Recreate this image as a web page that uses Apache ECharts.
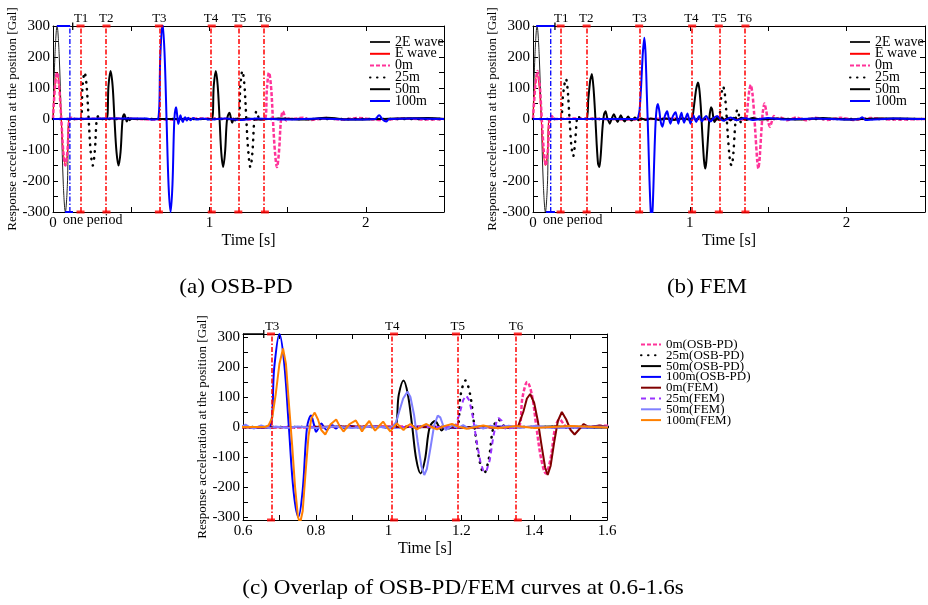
<!DOCTYPE html>
<html><head><meta charset="utf-8">
<script src="https://cdn.jsdelivr.net/npm/echarts@6/dist/echarts.min.js"></script>
<style>html,body{margin:0;padding:0;background:#fff}#c{width:928px;height:605px}</style>
</head><body><div id="c"></div>
<script>
// ---------- data ----------
const tTimes = [0.176, 0.342, 0.677, 1.015, 1.185, 1.355];
const tLabels = ['T1', 'T2', 'T3', 'T4', 'T5', 'T6'];
const legendAB = ['2E wave', 'E wave', '0m', '25m', '50m', '100m'];
const legendC = ['0m(OSB-PD)', '25m(OSB-PD)', '50m(OSB-PD)', '100m(OSB-PD)', '0m(FEM)', '25m(FEM)', '50m(FEM)', '100m(FEM)'];

const wave2E = [[0,0],[0.013,212],[0.026,300],[0.039,212],[0.053,0],[0.066,-212],[0.079,-300],[0.092,-212],[0.105,0],[2.5,0]];
const waveE = [[0,0],[0.013,106],[0.026,150],[0.039,106],[0.053,0],[0.066,-106],[0.079,-150],[0.092,-106],[0.105,0],[2.5,0]];

const osb0m = [[0,0],[0.013,106],[0.026,150],[0.039,106],[0.053,0],[0.066,-106],[0.079,-150],[0.092,-106],[0.105,0],[0.118,4],[0.13,0],[0.4,2],[0.7,-2],[1.0,2],[1.3,-2],[1.355,0],[1.368,100],[1.381,150],[1.394,105],[1.406,0],[1.419,-105],[1.432,-155],[1.445,-105],[1.458,0],[1.47,25],[1.482,8],[1.492,-5],[1.505,2],[1.52,0],[1.6,4],[1.65,-3],[1.75,3],[1.85,-2],[1.95,3],[2.1,-3],[2.25,2],[2.4,-2],[2.5,0]];
const osb25m = [[0,0],[0.176,0],[0.189,106],[0.202,150],[0.215,106],[0.228,0],[0.241,-106],[0.254,-150],[0.267,-106],[0.28,0],[0.292,10],[0.305,0],[1.185,0],[1.198,108],[1.211,155],[1.224,108],[1.236,0],[1.249,-108],[1.262,-155],[1.275,-108],[1.288,0],[1.302,25],[1.315,5],[1.33,0],[2.5,0]];
const osb50m = [[0,0],[0.342,0],[0.355,108],[0.368,155],[0.381,108],[0.393,0],[0.406,-106],[0.419,-150],[0.432,-106],[0.445,0],[0.456,15],[0.465,2],[0.472,-8],[0.48,4],[0.49,-4],[0.5,1],[0.52,0],[1.015,0],[1.028,108],[1.041,155],[1.053,108],[1.065,0],[1.076,-108],[1.088,-155],[1.1,-108],[1.113,0],[1.128,20],[1.138,2],[1.146,-12],[1.156,2],[1.165,-5],[1.178,2],[1.2,-2],[1.25,2],[1.3,-2],[1.45,2],[1.6,-2],[1.75,4],[1.9,-2],[2.2,2],[2.4,3],[2.5,0]];
const osb100m = [[0,0],[0.6,2],[0.63,-2],[0.672,0],[0.686,200],[0.700,310],[0.713,215],[0.726,0],[0.739,-215],[0.752,-300],[0.764,-210],[0.776,0],[0.787,38],[0.795,8],[0.801,-16],[0.808,-2],[0.815,12],[0.822,0],[0.83,-10],[0.838,2],[0.846,6],[0.855,-5],[0.865,4],[0.88,-4],[0.895,3],[0.92,-2],[0.96,2],[1.0,-2],[1.1,2],[1.2,-3],[1.3,2],[1.5,-2],[1.7,2],[1.9,-2],[2.06,0],[2.085,12],[2.105,0],[2.13,-8],[2.15,0],[2.3,2],[2.5,0]];

const fem0m = [[0,0],[0.015,110],[0.029,155],[0.043,110],[0.056,0],[0.069,-105],[0.082,-150],[0.095,-100],[0.107,0],[0.12,10],[0.133,0],[0.3,2],[0.6,-2],[0.9,2],[1.2,-2],[1.355,0],[1.37,50],[1.38,95],[1.389,110],[1.40,80],[1.41,20],[1.42,-60],[1.43,-135],[1.437,-160],[1.445,-130],[1.455,-50],[1.465,20],[1.476,50],[1.488,25],[1.50,-10],[1.511,-25],[1.522,-10],[1.536,10],[1.55,0],[1.58,5],[1.62,-4],[1.68,5],[1.74,-4],[1.8,4],[1.88,-3],[1.96,4],[2.05,-3],[2.15,3],[2.3,-2],[2.5,0]];
const fem25m = [[0,0],[0.176,0],[0.188,60],[0.2,110],[0.211,130],[0.222,90],[0.233,0],[0.245,-90],[0.257,-120],[0.268,-80],[0.28,0],[0.29,10],[0.302,0],[1.183,0],[1.195,45],[1.205,90],[1.213,105],[1.222,88],[1.232,30],[1.242,-50],[1.252,-115],[1.26,-145],[1.268,-150],[1.278,-110],[1.288,-30],[1.296,15],[1.302,30],[1.31,22],[1.318,-2],[1.325,-10],[1.335,-3],[1.35,0],[2.5,0]];
const fem50m = [[0,0],[0.342,0],[0.352,60],[0.365,125],[0.376,145],[0.386,100],[0.396,20],[0.406,-80],[0.415,-145],[0.424,-155],[0.433,-110],[0.443,-30],[0.453,15],[0.463,25],[0.473,5],[0.49,-15],[0.503,3],[0.516,15],[0.528,2],[0.54,-10],[0.55,2],[0.56,12],[0.572,0],[0.585,-8],[0.595,0],[0.607,8],[0.618,0],[0.63,-5],[0.64,0],[0.65,5],[0.662,0],[0.675,-4],[0.69,2],[0.72,-3],[0.75,2],[0.8,-3],[0.85,2],[0.9,-3],[0.95,2],[1.0,-2],[1.01,0],[1.02,15],[1.03,55],[1.04,95],[1.052,118],[1.06,100],[1.07,40],[1.08,-50],[1.09,-130],[1.098,-160],[1.105,-140],[1.115,-70],[1.125,5],[1.135,38],[1.142,32],[1.15,5],[1.157,-10],[1.166,-3],[1.176,6],[1.19,-4],[1.205,6],[1.22,-5],[1.24,5],[1.26,-5],[1.28,4],[1.30,-4],[1.33,4],[1.36,-3],[1.4,3],[1.45,-2],[1.55,2],[1.7,-2],[1.85,3],[2.0,-2],[2.2,2],[2.5,0]];
const fem100m = [[0,0],[0.66,0],[0.67,5],[0.68,30],[0.69,110],[0.70,210],[0.71,262],[0.718,210],[0.726,80],[0.735,-60],[0.743,-200],[0.751,-300],[0.757,-320],[0.764,-280],[0.772,-150],[0.78,-30],[0.788,30],[0.797,48],[0.806,25],[0.815,-10],[0.826,-25],[0.84,8],[0.856,25],[0.866,2],[0.876,-15],[0.893,10],[0.91,22],[0.918,5],[0.927,-15],[0.937,5],[0.947,20],[0.955,2],[0.963,-12],[0.975,5],[0.985,18],[0.995,0],[1.005,-15],[1.014,0],[1.023,12],[1.032,0],[1.041,-10],[1.05,2],[1.06,10],[1.069,0],[1.078,-8],[1.09,2],[1.104,10],[1.118,0],[1.133,-8],[1.15,2],[1.174,10],[1.195,0],[1.215,-6],[1.24,0],[1.26,5],[1.28,0],[1.3,-4],[1.35,3],[1.4,-3],[1.5,3],[1.6,-2],[1.8,2],[2.0,-2],[2.08,0],[2.1,6],[2.12,-3],[2.3,2],[2.5,0]];

// "one period" markers
const periodA = {top:[[0.024,300],[0.11,300]], bottom:[[0.077,-300],[0.128,-300]], vline:[[0.108,-300],[0.108,300]], tick:[[0.126,287],[0.126,311]]};
const periodB = {top:[[0.02,300],[0.14,300]], bottom:[[0.083,-300],[0.14,-300]], vline:[[0.113,-300],[0.113,300]], tick:[[0.14,287],[0.14,311]]};
const periodC = {top:[[0.6,310],[0.657,310]], tick:[[0.657,297],[0.657,323]]};

// ---------- styling ----------
const SERIF = "'Liberation Serif','Times New Roman',serif";
const C = {pink:'#ff3399', blue:'#0000ff', black:'#000000', red:'#ff0000', dred:'#800000', purple:'#9933ff', lblue:'#8080ff', orange:'#ff8000'};
const DOT = [0.5, 6.5], DASH = [4, 2], DASHDOT = [5, 2, 1.5, 2];

function axesX(g, min, max, interval, fmt) {
  const base = {gridIndex:g, type:'value', min, max, interval, splitLine:{show:false},
    axisLine:{onZero:false, lineStyle:{color:'#000', width:1}},
    axisTick:{inside:true, length:5, lineStyle:{color:'#000'}}};
  return [
    Object.assign({}, base, {position:'bottom', name:'Time [s]', nameLocation:'middle', nameGap:21,
      nameTextStyle:{fontFamily:SERIF, fontSize:16, color:'#000'},
      axisLabel:{formatter:fmt, fontFamily:SERIF, fontSize:15, color:'#000', margin:4}}),
    Object.assign({}, base, {position:'top', axisLabel:{show:false}})
  ];
}
function axesY(g, min, max, interval, splitNumber) {
  const base = {gridIndex:g, type:'value', min, max, splitLine:{show:false},
    axisLine:{onZero:false, lineStyle:{color:'#000', width:1}},
    axisTick:{inside:true, length:5, lineStyle:{color:'#000'}}};
  if (interval) base.interval = interval; else base.splitNumber = splitNumber;
  return [
    Object.assign({}, base, {position:'left', name:'Response acceleration at the position [Gal]', nameLocation:'middle', nameGap:34,
      nameTextStyle:{fontFamily:SERIF, fontSize:13, color:'#000'},
      axisLabel:{formatter:v => (v % 100 === 0 ? String(v) : ''), fontFamily:SERIF, fontSize:15, color:'#000', margin:3}}),
    Object.assign({}, base, {position:'right', axisLabel:{show:false}})
  ];
}
function ln(name, data, g, color, width, type, smooth) {
  const cap = (type === DOT) ? 'round' : 'butt';
  return {type:'line', name, data, xAxisIndex:g*2, yAxisIndex:g*2, symbol:'none', showSymbol:false, smooth,
    lineStyle:{color, width, type, cap}, itemStyle:{color}, animation:false};
}
function deco(data, g, color, width, type) {
  return {type:'line', data, xAxisIndex:g*2, yAxisIndex:g*2, symbol:'none', clip:false, silent:true,
    lineStyle:{color, width, type}, animation:false, z:5};
}
function tMarks(g, lim, lo, hi) {
  const idx = tTimes.map((t, i) => i).filter(i => tTimes[i] >= lo && tTimes[i] <= hi);
  const pts = [];
  idx.forEach(i => { pts.push([tTimes[i], lim]); pts.push([tTimes[i], -lim]); });
  return {type:'scatter', data:pts, xAxisIndex:g*2, yAxisIndex:g*2, symbol:'rect', symbolSize:[8,3], clip:false, silent:true,
    itemStyle:{color:C.red}, animation:false, z:6,
    markLine:{silent:true, symbol:['none','none'], animation:false,
      lineStyle:{color:C.red, width:1.5, type:DASHDOT},
      label:{show:true, position:'end', formatter:'{b}', fontFamily:SERIF, fontSize:13, color:'#000', distance:1},
      data: idx.map(i => ({xAxis:tTimes[i], name:tLabels[i]}))}};
}
const fmtAB = v => (Number.isInteger(v) ? String(v) : '');
const fmtC = v => { const k = Math.round(v * 10); return k % 2 === 0 ? String(k / 10) : ''; };

const series = [
  // (a) OSB-PD
  ln('2E wave', wave2E, 0, '#222', 1, 'solid', 0.35),
  ln('E wave', waveE, 0, C.red, 1, 'solid', 0.35),
  ln('0m', osb0m, 0, C.pink, 2.5, DASH, 0.35),
  ln('25m', osb25m, 0, C.black, 2.5, DOT, 0.35),
  ln('50m', osb50m, 0, C.black, 2, 'solid', 0.35),
  ln('100m', osb100m, 0, C.blue, 2, 'solid', 0.35),
  deco(periodA.top, 0, C.blue, 2, 'solid'), deco(periodA.bottom, 0, C.blue, 2, 'solid'),
  deco(periodA.vline, 0, C.blue, 1.3, DASHDOT), deco(periodA.tick, 0, C.black, 1.3, 'solid'),
  tMarks(0, 300, 0, 2.5),
  // (b) FEM
  ln('2E wave', wave2E, 1, '#222', 1, 'solid', 0.35),
  ln('E wave', waveE, 1, C.red, 1, 'solid', 0.35),
  ln('0m', fem0m, 1, C.pink, 2.5, DASH, 0.2),
  ln('25m', fem25m, 1, C.black, 2.5, DOT, 0.2),
  ln('50m', fem50m, 1, C.black, 2, 'solid', 0.2),
  ln('100m', fem100m, 1, C.blue, 2, 'solid', 0.2),
  deco(periodB.top, 1, C.blue, 2, 'solid'), deco(periodB.bottom, 1, C.blue, 2, 'solid'),
  deco(periodB.vline, 1, C.blue, 1.3, DASHDOT), deco(periodB.tick, 1, C.black, 1.3, 'solid'),
  tMarks(1, 300, 0, 2.5),
  // (c) overlap
  ln('0m(OSB-PD)', osb0m, 2, C.pink, 2.5, DASH, 0.35),
  ln('25m(OSB-PD)', osb25m, 2, C.black, 2.5, DOT, 0.35),
  ln('50m(OSB-PD)', osb50m, 2, C.black, 2, 'solid', 0.35),
  ln('100m(OSB-PD)', osb100m, 2, C.blue, 2, 'solid', 0.35),
  ln('0m(FEM)', fem0m, 2, C.dred, 2, 'solid', false),
  ln('25m(FEM)', fem25m, 2, C.purple, 2, [5, 4], false),
  ln('50m(FEM)', fem50m, 2, C.lblue, 2, 'solid', false),
  ln('100m(FEM)', fem100m, 2, C.orange, 2, 'solid', false),
  deco(periodC.top, 2, C.black, 1.5, 'solid'), deco(periodC.tick, 2, C.black, 1.3, 'solid'),
  tMarks(2, 310, 0.6, 1.6)
];

const legendBase = {orient:'vertical', padding:0, itemWidth:20, itemHeight:10, selectedMode:false,
  itemStyle:{opacity:0}, inactiveColor:'#000'};
const option = {
  backgroundColor:'#fff',
  animation:false,
  textStyle:{fontFamily:SERIF},
  grid:[
    {left:53, top:26, width:391, height:186},
    {left:533, top:26, width:393, height:186},
    {left:243, top:334, width:364, height:186}
  ],
  xAxis:[...axesX(0, 0, 2.5, 0.5, fmtAB), ...axesX(1, 0, 2.5, 0.5, fmtAB), ...axesX(2, 0.6, 1.6, 0.1, fmtC)],
  yAxis:[...axesY(0, -300, 300, 50), ...axesY(1, -300, 300, 50), ...axesY(2, -310, 310, null, 12)],
  legend:[
    Object.assign({}, legendBase, {data:legendAB, left:369, top:35, itemGap:-2.2, textStyle:{fontFamily:SERIF, fontSize:14, color:'#000'}}),
    Object.assign({}, legendBase, {data:legendAB, left:849, top:35, itemGap:-2.2, textStyle:{fontFamily:SERIF, fontSize:14, color:'#000'}}),
    Object.assign({}, legendBase, {data:legendC, left:640, top:338, itemGap:-2.2, textStyle:{fontFamily:SERIF, fontSize:13, color:'#000'}})
  ],
  graphic:[
    {type:'text', left:63, top:213, style:{text:'one period', font:"14px 'Liberation Serif', serif", fill:'#000'}},
    {type:'text', left:543, top:213, style:{text:'one period', font:"14px 'Liberation Serif', serif", fill:'#000'}},
    {type:'text', x:236, y:287, scaleX:1.1, style:{text:'(a) OSB-PD', font:"21px 'Liberation Serif', serif", fill:'#000', align:'center', verticalAlign:'middle'}},
    {type:'text', x:707, y:287, scaleX:1.1, style:{text:'(b) FEM', font:"21px 'Liberation Serif', serif", fill:'#000', align:'center', verticalAlign:'middle'}},
    {type:'text', x:463, y:588, scaleX:1.1, style:{text:'(c) Overlap of OSB-PD/FEM curves at 0.6-1.6s', font:"21px 'Liberation Serif', serif", fill:'#000', align:'center', verticalAlign:'middle'}}
  ],
  series
};
const chart = echarts.init(document.getElementById('c'), null, {renderer:'canvas'});
chart.setOption(option);
</script></body></html>
